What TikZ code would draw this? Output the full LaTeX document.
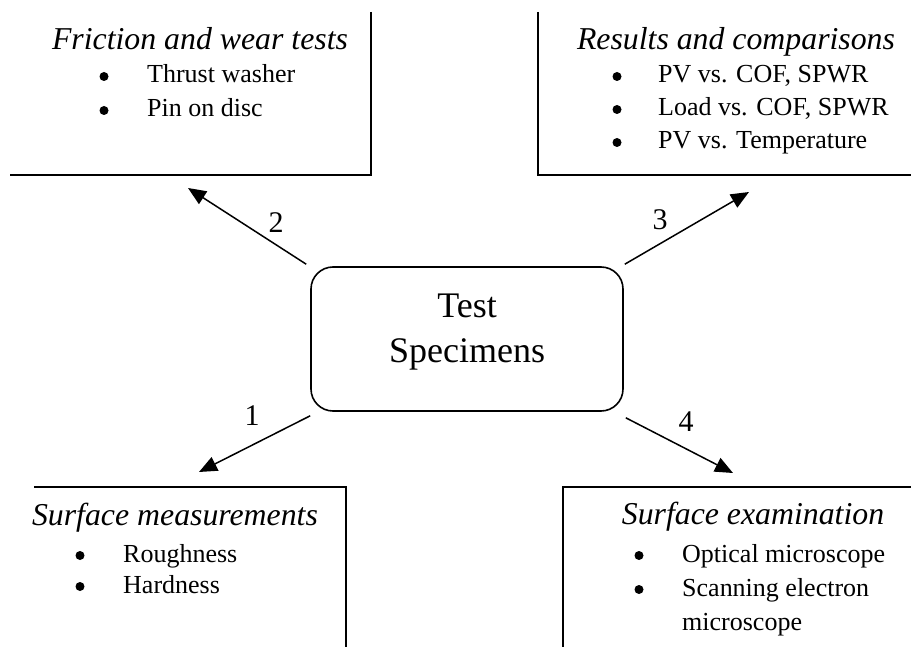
\documentclass[tikz,border=0pt]{standalone}
\usepackage{fontspec}
\setmainfont{Liberation Serif}
\usetikzlibrary{arrows.meta}
\begin{document}
\begin{tikzpicture}[x=1pt,y=-1pt,
  frame/.style={line width=1.8pt},
  conn/.style={line width=1.5pt,-{Triangle[length=18pt,width=15pt]}},
  head/.style={anchor=base,inner sep=0pt,font=\fontsize{31.8}{38}\selectfont\itshape},
  item/.style={anchor=base west,inner sep=0pt,font=\fontsize{26}{33}\selectfont},
  dot/.style={circle,fill,inner sep=0pt,minimum size=9pt,yshift=6.5pt},
  num/.style={inner sep=0pt,font=\fontsize{30}{36}\selectfont},
  big/.style={anchor=base,inner sep=0pt,font=\fontsize{36}{45}\selectfont},
]
\useasboundingbox (0,0) rectangle (911,647);

% partial frames of the four outer panels
\draw[frame] (371,12) |- (10,175);
\draw[frame] (538,12) |- (911,175);
\draw[frame] (34,487) -| (346,647);
\draw[frame] (911,487) -| (563,647);

% central box
\node[draw,line width=1.6pt,rounded corners=22pt,minimum width=312pt,
      minimum height=144pt] (spec) at (467,339) {};
\node[big] (specA) at (467,317) {Test};
\node[big] (specB) at (467,362) {Specimens};

% arrow tips
\coordinate (tip1) at (199,472);
\coordinate (tip2) at (188,188);
\coordinate (tip3) at (749,192);
\coordinate (tip4) at (733,473);

\draw[conn] ([shift={(-4pt,2pt)}]spec.north west) -- (tip2);
\draw[conn] ([shift={(1pt,2pt)}]spec.north east) -- (tip3);
\draw[conn] ([shift={(0pt,-4pt)}]spec.south west) -- (tip1);
\draw[conn] ([shift={(2pt,-6pt)}]spec.south east) -- (tip4);

\node[num] (n1) at (252,416) {1};
\node[num] (n2) at (276,223) {2};
\node[num] (n3) at (660,220) {3};
\node[num] (n4) at (686,422) {4};

% friction and wear tests
\node[head] (fwh) at (200,50) {Friction and wear tests};
\node[dot] (fwd1) at (104,83) {};
\node[item] (fw1) at (147,83) {Thrust washer};
\node[dot] (fwd2) at (104,117) {};
\node[item] (fw2) at (147,117) {Pin on disc};

% results and comparisons
\node[head] (rch) at (736,50) {Results and comparisons};
\node[dot] (rcd1) at (617,83) {};
\node[item] (rc1) at (658,83) {PV vs. COF, SPWR};
\node[dot] (rcd2) at (617,116) {};
\node[item] (rc2) at (658,116) {Load vs. COF, SPWR};
\node[dot] (rcd3) at (617,149) {};
\node[item] (rc3) at (658,149) {PV vs. Temperature};

% surface measurements
\node[head] (smh) at (175,525) {Surface measurements};
\node[dot] (smd1) at (80,562) {};
\node[item] (sm1) at (123,562) {Roughness};
\node[dot] (smd2) at (80,593) {};
\node[item] (sm2) at (123,593) {Hardness};

% surface examination
\node[head] (seh) at (753,524) {Surface examination};
\node[dot] (sed1) at (639,562) {};
\node[item] (se1) at (682,562) {Optical microscope};
\node[dot] (sed2) at (639,596) {};
\node[item] (se2) at (682,596) {Scanning electron};
\node[item] (se3) at (682,630) {microscope};
\end{tikzpicture}
\end{document}
